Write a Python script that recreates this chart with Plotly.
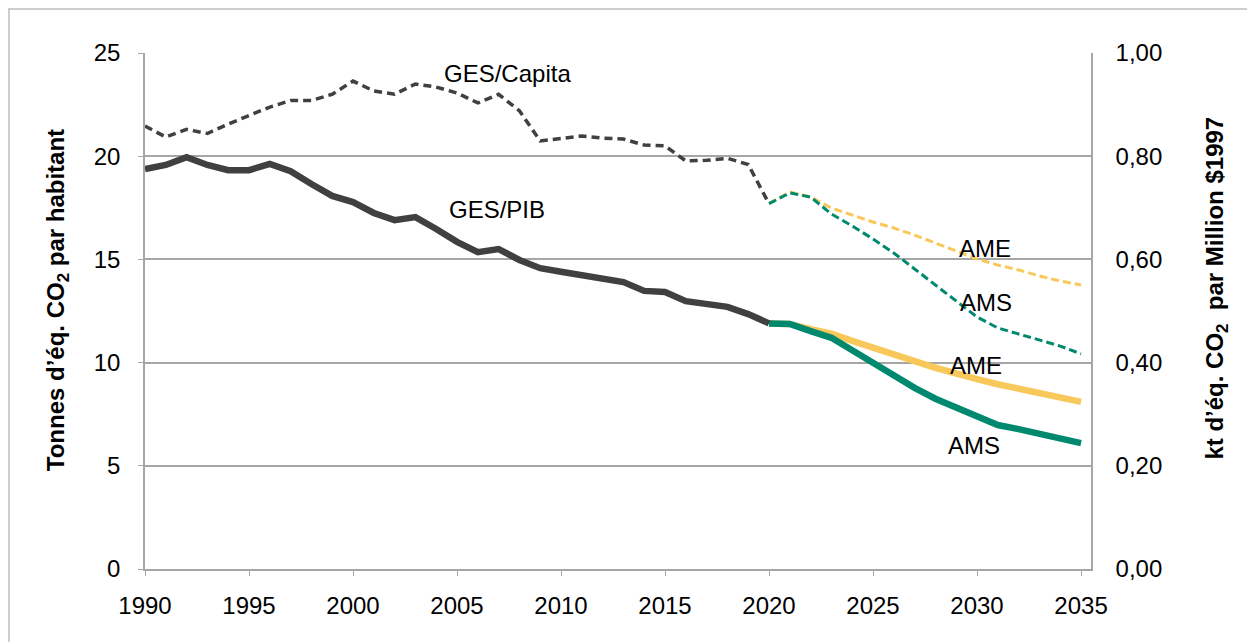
import plotly.graph_objects as go

# Historical years and series
years_hist = list(range(1990, 2021))
years_proj = list(range(2020, 2036))

# GES par habitant (tonnes d'éq. CO2 par habitant), left axis
ges_capita_hist = [21.46, 20.93, 21.30, 21.10, 21.56, 21.95, 22.38, 22.70, 22.70, 23.00,
                   23.64, 23.16, 23.00, 23.50, 23.35, 23.06, 22.58, 23.00, 22.20, 20.74,
                   20.88, 20.98, 20.88, 20.83, 20.54, 20.50, 19.77, 19.80, 19.90, 19.60,
                   17.70]
ges_capita_ame = [17.70, 18.27, 18.02, 17.49, 17.15, 16.81, 16.52, 16.18, 15.79, 15.40,
                  15.02, 14.73, 14.49, 14.20, 13.95, 13.76]
ges_capita_ams = [17.70, 18.22, 18.02, 17.20, 16.62, 15.99, 15.31, 14.53, 13.76, 12.98,
                  12.21, 11.68, 11.39, 11.10, 10.80, 10.42]

# GES/PIB (kt d'éq. CO2 par million $1997), right axis
ges_pib_hist = [0.775, 0.783, 0.798, 0.783, 0.773, 0.773, 0.785, 0.771, 0.746, 0.723,
                0.711, 0.690, 0.676, 0.682, 0.659, 0.634, 0.614, 0.620, 0.599, 0.583,
                0.576, 0.570, 0.562, 0.556, 0.539, 0.537, 0.519, 0.512, 0.508, 0.494,
                0.476]
ges_pib_ame = [0.476, 0.475, 0.465, 0.456, 0.442, 0.428, 0.417, 0.403, 0.390, 0.378,
               0.368, 0.358, 0.349, 0.339, 0.331, 0.324]
ges_pib_ams = [0.476, 0.475, 0.461, 0.448, 0.424, 0.399, 0.374, 0.351, 0.330, 0.312,
               0.294, 0.279, 0.271, 0.262, 0.256, 0.244]

GRAY = '#404040'
YELLOW = '#F9C85B'
GREEN = '#00896F'
GRID = '#A6A6A6'
FONT = 'Liberation Sans, Arial, sans-serif'

fig = go.Figure()

# dashed per-capita lines (left axis)
fig.add_trace(go.Scatter(x=years_proj, y=ges_capita_ame, mode='lines',
                         line=dict(color=YELLOW, width=3, dash='8px,4px')))
fig.add_trace(go.Scatter(x=years_proj, y=ges_capita_ams, mode='lines',
                         line=dict(color=GREEN, width=3, dash='8px,4px')))
fig.add_trace(go.Scatter(x=years_hist, y=ges_capita_hist, mode='lines',
                         line=dict(color=GRAY, width=3.5, dash='8px,5px')))

# solid GES/PIB lines (right axis)
fig.add_trace(go.Scatter(x=years_proj, y=ges_pib_ame, mode='lines', yaxis='y2',
                         line=dict(color=YELLOW, width=6.5)))
fig.add_trace(go.Scatter(x=years_proj, y=ges_pib_ams, mode='lines', yaxis='y2',
                         line=dict(color=GREEN, width=6.5)))
fig.add_trace(go.Scatter(x=years_hist, y=ges_pib_hist, mode='lines', yaxis='y2',
                         line=dict(color=GRAY, width=6.5)))

labels = [
    ('GES/Capita', 2007.43, 24.03),
    ('GES/PIB', 2006.9, 17.44),
    ('AME', 2030.37, 15.55),
    ('AMS', 2030.42, 12.89),
    ('AME', 2029.94, 9.88),
    ('AMS', 2029.85, 5.96),
]
for txt, x, y in labels:
    fig.add_annotation(x=x, y=y, text=txt, showarrow=False,
                       xanchor='center', yanchor='middle',
                       font=dict(size=24, color='black', family=FONT))

# axis titles
fig.add_annotation(xref='paper', yref='paper', x=-0.093, y=0.521,
                   xanchor='center', yanchor='middle',
                   text="<b>Tonnes d’éq. CO<sub>2</sub> par habitant</b>", textangle=-90,
                   showarrow=False, font=dict(size=24, color='black', family=FONT))
fig.add_annotation(xref='paper', yref='paper', x=1.133, y=0.545,
                   xanchor='center', yanchor='middle',
                   text="<b>kt d’éq. CO<sub>2</sub>  par Million $1997</b>", textangle=-90,
                   showarrow=False, font=dict(size=24, color='black', family=FONT))

# outer chart border
fig.add_shape(type='rect', xref='paper', yref='paper',
              x0=-0.1438, x1=1.2, y0=-0.2, y1=1.0853,
              line=dict(color='#BFBFBF', width=1.5), fillcolor='rgba(0,0,0,0)')

fig.update_layout(
    width=1247, height=634,
    margin=dict(l=137, r=164, t=45, b=73),
    paper_bgcolor='white', plot_bgcolor='white',
    showlegend=False,
    separators=', ',
    font=dict(family=FONT, size=24, color='black'),
    xaxis=dict(range=[1990, 2035.48], tickvals=list(range(1990, 2036, 5)),
               showgrid=False, showline=True, linecolor=GRID, linewidth=1.5,
               ticks='outside', ticklen=5, tickcolor=GRID, ticklabelstandoff=9,
               zeroline=False, tickfont=dict(size=24)),
    yaxis=dict(range=[0, 25], tickvals=[0, 5, 10, 15, 20, 25],
               showgrid=True, gridcolor=GRID, gridwidth=1.5,
               showline=True, linecolor=GRID, linewidth=1.5,
               ticks='outside', ticklen=5, tickcolor=GRID, ticklabelstandoff=13,
               zeroline=False, tickfont=dict(size=24)),
    yaxis2=dict(range=[0, 1], overlaying='y', side='right',
                tickvals=[0, 0.2, 0.4, 0.6, 0.8, 1.0], tickformat='.2f',
                showgrid=False, showline=True, linecolor=GRID, linewidth=1.5,
                ticks='', ticklabelstandoff=18, zeroline=False, tickfont=dict(size=24)),
)

fig.write_html("out.html")
